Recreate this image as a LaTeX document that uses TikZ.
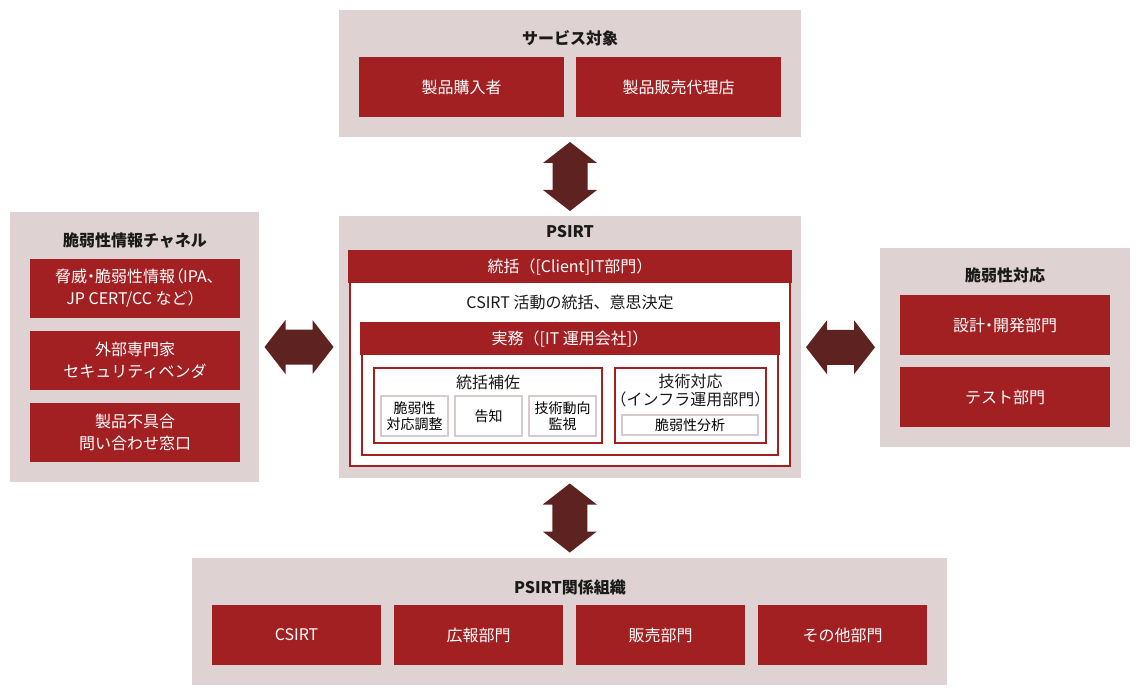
\documentclass[tikz,border=0pt]{standalone}
\usepackage{fontspec}
\setmainfont{Noto Sans CJK JP}
\newfontfamily\tightfont{Noto Sans CJK JP}[RawFeature=+palt]
\usetikzlibrary{calc}

\definecolor{panelgray}{HTML}{DED3D2}
\definecolor{boxred}{HTML}{A21F22}
\definecolor{arrowbrown}{HTML}{5E2220}
\definecolor{subgray}{HTML}{D6CBCA}
\definecolor{titleblack}{HTML}{1A1A1A}

% fat two-headed arrow between two panels: #1 centre, #2 rotation
\newcommand{\fatarrow}[2]{%
  \fill[arrowbrown,shift={#1},rotate=#2] (0,-34.5) -- (27,-13.5) -- (17.5,-13.5)
    -- (17.5,13.5) -- (27,13.5) -- (0,34.5) -- (-27,13.5) -- (-17.5,13.5)
    -- (-17.5,-13.5) -- (-27,-13.5) -- cycle;}

\begin{document}
\begin{tikzpicture}[x=1pt,y=-1pt,
    panel/.style={fill=panelgray,inner sep=0},
    paneltitle/.style={font=\bfseries\fontsize{16}{18}\selectfont,text=titleblack},
    redbox/.style={fill=boxred,text=white,font=\fontsize{16}{22}\selectfont,
      align=center,minimum height=60,inner sep=0},
    redframe/.style={draw=boxred,line width=2pt,fill=white,inner sep=0},
    subbox/.style={draw=subgray,line width=2pt,fill=white,inner sep=0,
      font=\fontsize{14}{16.5}\selectfont,align=center},
    bodytext/.style={font=\fontsize{16}{18}\selectfont,align=center,text=titleblack},
    bandtext/.style={font=\fontsize{16}{18}\selectfont,text=white}]
  \useasboundingbox (0,0) rectangle (1140,695);

  % service targets
  \node[panel,minimum width=462,minimum height=127] (service) at (570,73.5) {};
  \node[paneltitle] (servicetitle) at (570,38) {サービス対象};
  \node[redbox,minimum width=205] (buyer) at (461.5,87) {製品購入者};
  \node[redbox,minimum width=205] (dealer) at (678.5,87) {製品販売代理店};

  % vulnerability info channels
  \node[panel,minimum width=249,minimum height=270] (channel) at (134.5,347) {};
  \node[paneltitle] (channeltitle) at (135,240) {脆弱性情報チャネル};
  \node[redbox,minimum width=210,minimum height=59] (threat) at (135,288.5)
    {\tightfont 脅威・脆弱性情報（IPA、\\JP CERT/CC など）};
  \node[redbox,minimum width=210,minimum height=59] (expert) at (135,360.5)
    {外部専門家\\セキュリティベンダ};
  \node[redbox,minimum width=210,minimum height=59] (defect) at (135,432.5)
    {製品不具合\\問い合わせ窓口};

  % vulnerability handling
  \node[panel,minimum width=250,minimum height=199] (handling) at (1005,347.5) {};
  \node[paneltitle] (handlingtitle) at (1005,275) {脆弱性対応};
  \node[redbox,minimum width=210] (design) at (1005,325) {\tightfont 設計・開発部門};
  \node[redbox,minimum width=210] (test) at (1005,397) {テスト部門};

  % PSIRT
  \node[panel,minimum width=462,minimum height=262] (psirt) at (570,347) {};
  \node[paneltitle] (psirttitle) at (570,232) {PSIRT};
  \node[redframe,minimum width=440,minimum height=214] (lead) at (570,359) {};
  \fill[boxred] ($(lead.north west)+(-1,-1)$) rectangle ($(lead.north east)+(1,32)$);
  \node[bandtext] (leadtitle) at (570,267) {統括（[Client]IT部門）};
  \node[bodytext] (leadtext) at (570,302) {CSIRT 活動の統括、意思決定};
  \node[redframe,minimum width=416,minimum height=131] (ops) at (570,389.5) {};
  \fill[boxred] ($(ops.north west)+(-1,-1)$) rectangle ($(ops.north east)+(1,32)$);
  \node[bandtext] (opstitle) at (570,339) {実務（[IT 運用会社]）};

  \node[redframe,minimum width=228,minimum height=75] (assist) at (488,405.5) {};
  \node[bodytext] (assisttitle) at (488,382) {統括補佐};
  \node[subbox,minimum width=67,minimum height=40] (coord) at (414.5,416)
    {脆弱性\\対応調整};
  \node[subbox,minimum width=67,minimum height=40] (notice) at (488.5,416) {告知};
  \node[subbox,minimum width=67,minimum height=40] (trend) at (562.5,416)
    {技術動向\\監視};

  \node[redframe,minimum width=151,minimum height=75] (tech) at (690.5,405.5) {};
  \node[bodytext] (techtitle) at (690.5,391) {技術対応\\（インフラ運用部門）};
  \node[subbox,minimum width=136,minimum height=20] (analysis) at (690,425)
    {脆弱性分析};

  % PSIRT related organisations
  \node[panel,minimum width=755,minimum height=127] (related) at (569.5,621.5) {};
  \node[paneltitle] (relatedtitle) at (570,587) {PSIRT関係組織};
  \node[redbox,minimum width=169] (csirt) at (296.5,635) {CSIRT};
  \node[redbox,minimum width=169] (pr) at (478.5,635) {広報部門};
  \node[redbox,minimum width=169] (sales) at (660.5,635) {販売部門};
  \node[redbox,minimum width=169] (other) at (842.5,635) {その他部門};

  % arrows
  \fatarrow{($(service.south)!0.5!(psirt.north)$)}{0}
  \fatarrow{($(psirt.south)!0.5!(related.north)$)}{0}
  \fatarrow{($(channel.east)!0.5!(psirt.west)$)}{90}
  \fatarrow{($(psirt.east)!0.5!(handling.west)$)}{90}
\end{tikzpicture}
\end{document}
